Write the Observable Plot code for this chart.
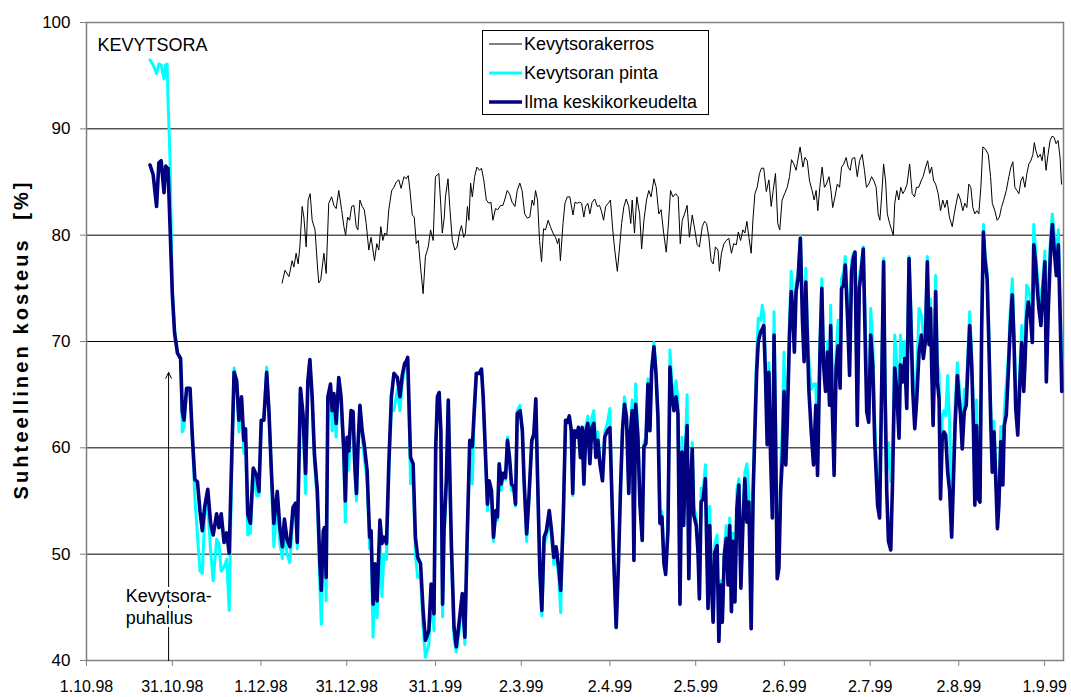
<!DOCTYPE html>
<html>
<head>
<meta charset="utf-8">
<script src="https://cdn.jsdelivr.net/npm/d3@7"></script>
<script src="https://cdn.jsdelivr.net/npm/@observablehq/plot@0.6"></script>
<style>
  body { margin: 0; background: #fff; }
  #chart svg { font-family: "Liberation Sans", Arial, sans-serif; display: block; }
</style>
</head>
<body>
<div id="chart"></div>
<script>
// ---- data: days since 1.10.1998 ----
const kerrosDays = [68.4,69.4,70.8,71.9,72.5,73.3,74.0,74.6,75.4,76.0,76.8,77.5,78.2,78.9,79.9,80.7,81.2,81.9,83.0,83.8,84.7,85.7,86.5,87.3,88.2,89.2,90.0,90.6,91.3,92.0,92.7,93.5,94.3,94.9,95.6,96.4,97.1,97.8,98.7,99.5,100.7,101.5,102.2,102.9,103.6,104.3,105.0,105.7,106.7,107.5,108.3,109.2,110.0,111.0,111.8,112.5,113.1,113.9,114.6,115.3,116.0,116.8,117.7,118.5,119.5,120.3,121.2,122.0,123.2,123.9,124.4,125.1,125.5,126.4,127.0,127.9,128.8,129.6,130.4,131.1,131.9,132.5,133.2,133.7,134.3,134.9,135.7,136.5,137.4,138.1,138.9,139.8,140.7,141.4,142.1,143.0,143.8,144.8,145.6,146.3,147.1,147.9,148.8,149.8,150.6,151.5,152.3,153.2,154.1,155.0,155.8,156.4,157.0,157.7,158.4,159.1,159.8,160.5,161.4,162.2,163.1,164.0,164.7,165.2,165.7,166.6,167.3,168.1,169.0,170.1,170.8,171.6,172.4,173.1,173.9,174.5,175.3,176.0,176.8,177.7,178.6,179.4,180.1,180.8,181.5,182.4,183.2,184.0,184.7,185.6,186.4,187.1,187.9,188.7,189.6,190.3,190.8,191.6,192.4,193.4,194.1,194.9,195.8,196.6,197.4,198.4,199.2,200.1,200.9,201.8,202.7,203.4,204.2,205.0,206.0,206.9,207.6,208.3,209.1,210.0,210.8,211.8,212.7,213.5,214.3,215.3,216.1,216.8,217.6,218.4,219.1,219.9,220.8,221.3,222.0,222.9,223.7,224.6,225.5,226.3,227.2,227.9,228.7,229.5,230.2,230.9,231.6,232.4,233.0,233.7,234.5,235.3,236.0,236.8,237.7,238.6,239.4,240.1,240.9,241.7,242.4,243.2,244.1,245.0,245.8,246.5,247.3,248.1,249.5,250.5,251.2,252.0,252.8,253.7,254.4,255.1,255.7,256.4,257.2,258.0,258.7,259.6,260.3,260.9,261.7,262.5,263.3,264.0,264.8,265.6,266.3,267.0,267.7,268.6,269.5,270.3,271.2,272.0,272.7,273.5,274.5,275.3,276.1,276.8,277.4,278.0,278.7,279.4,280.0,280.8,281.5,282.1,282.6,283.3,284.0,284.7,285.4,286.1,286.9,287.8,288.7,289.5,290.2,291.0,291.8,292.5,293.4,294.1,294.8,295.5,296.2,296.9,297.8,298.6,299.4,300.1,300.9,301.7,302.7,303.4,304.1,304.8,305.6,306.4,307.1,307.8,308.5,309.2,309.9,310.6,311.3,312.0,312.7,313.4,314.3,315.3,316.1,316.7,317.6,318.4,319.2,319.9,320.7,321.6,322.5,323.2,323.9,324.6,325.3,326.0,326.7,327.4,328.1,328.8,329.5,330.2,330.9,331.4,332.0,332.7,333.5,334.1,334.8,335.5,336.2,336.9,337.6,338.3,339.0,339.7,340.4,340.9];
const kerros = [75.5,76.7,76.1,77.6,77.0,78.3,77.3,78.9,82.7,81.7,78.9,83.3,83.9,81.4,80.5,77.3,75.5,75.8,78.3,76.4,83.0,83.6,82.8,82.5,84.2,82.4,80.8,80.0,81.7,81.4,82.7,82.8,80.8,80.5,83.3,82.7,82.4,81.1,78.6,79.8,77.6,79.2,78.6,80.8,79.5,80.2,80.0,82.4,84.2,84.5,85.0,85.2,84.4,85.5,85.3,85.6,84.2,81.9,81.7,79.2,79.5,77.0,74.5,78.0,78.9,80.5,79.5,85.5,85.8,82.7,80.2,81.7,83.6,85.3,82.7,79.5,78.6,78.9,80.2,80.9,79.8,80.2,82.7,81.4,84.9,83.6,85.5,86.4,86.1,86.3,85.2,83.3,83.0,83.1,81.4,82.5,82.4,82.8,82.8,83.4,84.2,83.9,83.1,82.7,84.2,84.9,84.2,82.0,81.6,81.7,83.3,82.8,84.2,83.3,79.5,77.5,80.6,80.5,81.4,80.8,80.2,79.8,79.2,79.7,77.6,81.1,83.0,83.6,83.6,81.9,83.1,83.0,83.1,83.0,81.7,82.7,83.0,82.0,83.1,83.4,82.7,82.8,82.2,81.4,82.7,83.0,83.3,80.5,78.6,76.6,78.9,81.1,82.7,83.4,82.7,81.1,83.3,80.2,83.6,82.0,78.7,81.4,83.3,84.2,83.6,85.3,84.5,82.0,82.4,80.2,78.4,80.8,84.2,83.6,83.9,83.6,79.2,81.4,82.0,82.8,79.8,81.9,80.5,79.1,78.9,80.8,81.3,81.1,79.8,77.6,77.3,78.9,78.6,76.6,78.3,79.2,79.5,79.7,78.3,79.2,79.1,80.3,79.5,80.5,80.2,81.3,79.8,78.3,81.4,83.9,84.5,85.8,86.3,86.3,84.1,85.2,82.7,84.2,85.8,81.1,80.5,83.3,83.9,84.5,85.5,87.1,86.7,86.1,88.3,86.4,87.3,87.0,85.1,84.2,83.3,84.2,82.3,84.5,86.4,84.5,84.8,85.5,84.2,82.6,83.6,84.8,84.5,86.4,86.7,87.3,86.4,86.1,87.2,87.3,85.5,87.0,87.6,86.1,84.5,84.8,85.5,85.1,84.5,82.0,81.4,83.6,86.7,85.1,82.0,81.1,80.5,80.0,83.0,84.2,83.3,84.5,83.9,84.2,84.8,86.7,83.9,83.6,84.5,84.5,85.1,85.5,86.4,87.0,85.8,86.4,85.1,84.8,83.9,82.3,83.3,82.6,83.3,81.7,80.8,82.0,83.0,83.9,83.3,82.3,83.0,82.6,84.8,84.5,82.6,82.0,82.3,82.0,84.5,88.3,88.1,87.6,85.5,83.0,82.3,81.4,81.7,82.6,83.3,84.2,85.5,86.4,86.9,84.5,84.2,83.9,85.1,85.5,84.5,85.8,86.7,87.0,87.6,88.7,87.9,87.3,87.6,87.0,88.3,86.1,87.6,88.9,89.3,89.2,88.6,88.9,87.3,84.8];

const lowDays = [22.2,23.3,24.5,25.3,26.1,27.1,27.7,28.2,28.5,29.2,30.0,30.8,31.8,32.9,33.5,34.1,35.0,36.2,37.0,37.9,38.8,39.7,40.5,41.3,42.4,43.4,44.3,45.5,46.3,47.1,48.1,49.0,49.9,50.6,51.6,52.5,53.3,54.2,55.0,55.6,56.4,57.3,58.3,59.5,60.3,61.1,62.0,63.0,63.8,64.6,65.5,66.7,67.6,68.5,69.2,70.1,71.1,72.2,73.1,73.7,74.8,75.7,76.6,77.4,78.1,78.9,79.7,80.7,81.6,82.1,82.8,83.2,83.8,84.4,85.3,85.9,86.5,87.3,88.2,89.0,89.9,90.5,91.1,91.7,92.5,93.2,93.8,94.4,94.9,95.6,96.4,97.2,98.1,99.0,99.5,100.2,100.9,101.6,102.6,103.3,104.0,104.9,105.7,106.6,107.5,108.7,109.6,110.4,111.2,111.9,112.3,113.3,114.2,115.0,115.8,116.8,117.7,118.5,119.7,120.5,121.5,122.1,122.7,123.3,123.9,124.5,125.0,125.8,126.5,126.9,127.6,128.5,129.3,130.2,131.4,132.3,133.1,134.0,134.9,135.5,136.3,137.3,138.1,138.7,139.4,140.2,140.8,141.6,142.3,143.1,143.7,144.3,145.0,145.7,146.5,147.2,147.9,148.6,149.4,150.0,150.6,151.6,152.4,153.0,153.9,154.7,155.7,156.4,157.1,157.6,158.5,159.2,160.0,160.8,161.8,162.6,163.4,164.2,165.2,165.8,166.7,167.5,168.1,168.8,169.5,170.0,170.6,171.3,172.0,172.7,173.3,173.9,174.6,175.3,176.0,176.7,177.4,178.1,178.8,179.5,180.4,181.2,182.1,183.0,183.7,184.4,185.2,186.0,186.7,187.4,188.1,188.8,189.6,190.2,190.8,191.4,192.0,192.8,193.5,194.3,194.9,195.6,196.3,197.0,197.6,198.4,199.1,199.8,200.5,201.2,201.9,202.5,203.3,204.0,204.7,205.4,206.1,206.8,207.5,208.2,208.8,209.4,210.0,210.6,211.2,211.8,212.3,213.2,213.8,214.3,214.9,215.6,216.4,217.3,217.9,218.4,219.1,219.7,220.5,221.1,221.7,222.3,223.0,223.7,224.3,224.9,225.5,226.1,226.7,227.4,228.1,228.8,229.5,230.2,230.9,231.6,232.4,233.1,233.7,234.3,234.9,235.7,236.3,236.8,237.4,238.0,238.6,239.2,239.8,240.4,240.9,241.5,242.1,242.7,243.3,243.9,244.5,245.0,245.8,246.4,246.9,247.5,248.1,248.8,249.6,250.3,250.9,251.5,252.0,252.6,253.4,254.2,255.0,255.6,256.4,257.1,257.7,258.4,259.1,259.8,260.2,260.8,261.4,262.1,262.8,263.5,264.0,264.7,265.3,266.1,266.8,267.5,268.1,268.7,269.5,270.2,270.9,271.6,272.1,272.8,273.5,274.2,274.9,275.6,276.6,277.3,278.0,278.7,279.2,279.8,280.4,281.2,281.8,282.6,283.3,284.1,284.6,285.4,286.1,286.8,287.6,288.2,288.9,289.6,290.3,291.1,291.9,292.6,293.3,294.0,294.6,295.1,295.5,296.0,296.4,296.9,297.5,298.1,298.6,299.2,299.8,300.4,301.1,301.8,302.5,303.0,303.7,304.5,305.1,305.6,306.2,306.9,307.6,308.2,308.8,309.5,310.1,310.6,311.2,311.8,312.4,313.0,313.6,314.1,314.9,315.5,316.2,316.7,317.3,317.9,318.5,319.0,319.7,320.4,320.9,321.6,322.3,323.0,323.7,324.3,324.9,325.6,326.3,327.0,327.7,328.1,328.7,329.3,330.0,330.7,331.2,331.9,332.5,333.0,333.7,334.4,335.1,335.6,336.3,337.1,337.7,338.4,339.1,339.8,340.5,341.0];
const ilma = [86.6,85.7,82.7,86.8,87.0,84.0,86.5,86.3,86.3,80.9,74.5,70.8,68.9,68.4,63.4,62.6,65.6,65.6,61.1,57.0,56.8,54.0,52.2,54.4,56.1,52.9,51.8,53.8,52.5,53.8,51.1,52.0,50.1,57.4,67.1,66.3,62.6,64.8,60.7,61.8,53.7,52.9,58.1,57.4,55.9,62.6,62.6,67.1,63.4,58.1,52.9,55.9,52.5,50.7,53.3,51.4,50.7,54.4,54.8,51.1,65.6,63.2,57.6,66.3,68.3,64.8,59.4,56.0,49.1,46.6,52.2,52.5,47.8,64.8,66.0,63.5,65.1,62.3,66.6,64.8,60.1,55.0,61.0,59.7,63.5,63.4,58.5,55.7,60.1,64.0,61.6,60.1,57.9,51.6,52.2,45.3,49.1,45.6,53.2,51.0,51.6,51.0,58.5,64.8,67.0,66.6,64.8,66.8,67.9,68.2,68.5,59.1,58.5,51.6,49.7,49.1,44.7,41.9,42.8,47.2,44.4,60.1,64.8,65.2,61.6,45.3,52.2,56.9,64.5,59.1,50.7,43.1,41.3,43.4,46.3,42.2,51.6,60.7,60.1,63.2,67.0,67.0,67.4,64.8,60.1,54.7,56.9,56.0,51.6,54.1,53.5,58.5,56.6,57.6,57.2,60.7,59.1,56.6,56.3,54.7,63.2,63.5,61.6,56.9,51.9,55.4,60.7,61.3,64.6,58.5,48.5,44.7,51.6,52.2,54.1,52.2,49.7,50.7,48.5,46.6,53.5,62.6,62.4,63.0,61.6,55.7,61.6,61.0,61.9,59.1,61.9,56.6,61.6,62.3,58.5,61.9,62.3,59.1,60.7,58.5,56.9,61.0,61.6,61.9,55.4,49.1,43.1,49.1,56.0,61.6,64.1,62.9,55.7,61.6,63.5,49.4,64.1,61.0,54.7,51.3,60.1,60.4,66.0,61.6,67.3,69.5,67.0,62.9,52.9,53.5,49.1,48.1,52.2,67.6,64.8,63.5,64.8,63.2,45.3,59.6,52.7,59.3,62.1,47.7,56.5,59.9,53.7,52.7,50.2,45.8,54.9,55.2,57.1,44.9,52.7,48.0,43.6,50.2,50.8,41.8,47.1,43.6,49.9,51.5,47.1,52.7,44.6,51.2,45.5,54.3,56.5,46.8,52.7,57.1,53.0,54.9,43.0,55.9,61.5,67.1,70.0,70.9,71.2,71.5,66.8,60.3,67.1,59.0,53.4,70.6,61.5,47.7,48.7,55.9,59.0,65.3,58.4,62.1,70.6,74.7,73.1,69.0,74.7,75.9,79.7,72.2,68.1,75.6,70.6,65.3,61.5,58.4,64.0,57.4,68.4,75.0,67.8,65.3,69.0,64.0,71.5,63.4,57.4,67.5,69.6,65.6,75.0,75.3,77.2,72.2,66.8,76.6,77.8,78.4,62.1,75.0,76.6,78.7,72.2,63.4,62.4,70.6,67.8,60.6,54.6,53.4,65.3,77.5,65.3,55.9,51.2,50.4,56.5,67.5,65.3,60.9,67.8,66.2,68.4,63.7,77.8,72.2,65.3,61.8,64.6,69.0,70.6,68.4,70.0,77.5,69.7,73.1,67.8,62.1,66.5,74.7,66.2,64.6,55.2,60.9,61.5,61.2,57.7,55.9,51.6,55.9,62.1,66.8,64.6,63.1,59.9,63.4,64.0,67.8,71.5,67.8,62.1,54.6,62.1,55.2,54.9,71.5,80.3,77.8,75.9,69.9,62.1,57.7,61.5,57.1,52.4,54.6,60.6,56.5,62.1,63.1,67.1,71.5,74.4,69.9,63.7,61.2,65.9,69.9,65.3,67.8,72.2,73.7,72.5,69.9,79.1,77.2,74.7,73.1,71.5,74.7,77.5,66.2,73.1,78.7,81.0,78.4,76.2,79.1,71.5,65.3];
const pinta = [96.5,96.0,95.2,96.1,96.0,94.7,96.0,96.1,92.8,87.2,75.0,71.0,69.0,68.4,61.5,62.0,65.6,65.6,60.8,55.2,51.8,48.4,48.2,53.6,54.5,50.3,47.5,51.4,51.0,48.4,48.8,49.5,44.7,55.5,67.5,66.3,61.5,64.5,59.5,61.0,51.8,52.0,57.5,55.5,55.5,62.6,62.6,67.6,63.4,57.5,50.7,55.0,51.0,49.6,52.5,50.0,49.2,53.5,54.0,50.5,65.6,62.5,55.7,66.0,68.3,64.5,58.5,55.0,47.0,43.4,51.0,51.5,45.6,64.0,65.5,61.6,64.5,61.0,66.6,64.5,59.5,53.0,60.5,57.9,63.0,63.0,57.5,55.0,59.5,64.0,61.0,58.8,57.0,50.5,51.5,42.2,48.0,44.0,52.0,46.0,50.0,49.5,57.5,63.5,63.5,65.5,63.5,66.0,67.5,68.0,68.5,56.6,57.0,50.0,47.8,48.0,43.0,40.3,41.5,46.0,42.8,59.5,64.5,65.2,61.0,44.1,51.5,56.0,64.5,58.5,49.5,42.0,40.8,42.5,45.5,41.5,50.5,60.0,56.6,62.5,67.0,67.0,67.4,64.5,59.5,54.1,56.5,55.5,51.2,54.0,53.2,58.5,56.0,57.6,57.0,61.0,59.0,56.0,56.0,54.5,63.5,64.0,61.5,56.5,51.2,55.0,60.5,61.0,64.5,58.0,48.0,44.2,51.0,51.5,53.5,51.5,49.0,50.0,47.5,44.5,53.0,62.6,62.4,63.0,61.6,55.5,61.6,61.0,62.0,59.0,62.0,56.5,62.0,63.0,59.0,62.9,63.5,60.0,61.5,59.0,57.0,61.5,62.3,63.7,55.4,49.1,43.1,49.1,56.0,62.0,64.8,63.0,55.7,62.0,64.5,49.4,66.0,61.5,55.0,51.3,60.5,61.0,66.5,62.0,67.5,69.9,67.5,63.5,53.5,54.0,49.5,48.5,52.5,69.2,66.0,65.0,66.3,64.5,45.3,61.0,53.5,60.0,65.0,47.7,57.0,60.5,54.5,53.5,50.5,45.8,56.2,56.0,58.4,44.9,54.5,48.5,43.6,51.0,51.8,41.8,47.5,43.6,50.5,52.7,47.5,53.4,44.6,52.0,45.5,56.0,57.1,47.0,54.0,57.7,58.5,56.0,43.0,57.0,63.0,69.0,72.2,72.0,73.4,72.5,68.0,61.0,68.0,60.0,54.0,72.8,63.0,48.5,50.0,58.0,62.0,69.0,60.0,63.5,72.0,76.6,74.0,70.5,75.5,76.5,79.9,73.5,69.5,76.9,72.0,68.1,65.5,66.0,66.0,58.5,69.5,75.9,68.5,66.5,70.0,66.0,73.4,64.5,58.0,69.0,72.0,68.0,75.9,76.5,78.0,74.0,68.0,77.5,78.3,78.4,63.0,76.0,77.5,78.9,74.0,66.0,64.0,73.1,70.0,62.5,56.0,55.0,66.5,77.8,67.0,58.0,60.5,56.8,58.5,70.6,68.0,63.0,70.6,68.5,70.0,66.0,78.0,73.5,67.8,63.5,67.0,73.1,72.5,70.5,71.5,78.0,71.0,74.0,69.0,64.0,68.0,76.2,68.0,67.0,57.0,63.0,63.5,63.0,66.8,62.1,53.0,57.0,64.0,68.0,66.0,64.0,61.0,65.5,65.5,69.0,72.8,69.0,63.5,56.0,64.5,56.5,56.0,72.0,81.0,78.5,76.5,71.0,63.5,59.0,62.5,58.0,53.5,56.0,62.0,58.0,63.5,66.0,68.5,73.0,75.9,71.0,65.0,63.0,67.5,71.5,67.0,69.5,75.3,75.0,74.0,72.0,81.0,78.5,76.0,75.0,73.0,76.0,78.5,67.0,75.0,80.0,82.0,80.0,78.0,80.5,73.0,67.8];

const seriesNames = ["Kevytsorakerros", "Kevytsoran pinta", "Ilma keskikorkeudelta"];
const xTickDates = ["1998-10-01","1998-10-31","1998-12-01","1998-12-31","1999-01-31","1999-03-02","1999-04-02","1999-05-02","1999-06-02","1999-07-02","1999-08-02","1999-09-01"];
const xTickLabels = ["1.10.98","31.10.98","1.12.98","31.12.98","31.1.99","2.3.99","2.4.99","2.5.99","2.6.99","2.7.99","2.8.99","1.9.99"];
const yTicks = [40, 50, 60, 70, 80, 90, 100];
const yGrid = [50, 60, 70, 80, 90];
const xDomainDays = [0, 341.6];
const titleText = "KEVYTSORA";
const yLabel = "Suhteellinen kosteus  [%]";
const noteText = "Kevytsora-\npuhallus";
const arrowDay = 28.7, arrowFrom = 40, arrowTo = 67.1;
const noteDay = 13.7, noteY = 47.0;

// ---- build ----
const start = Date.UTC(1998, 9, 1);
const toDate = d => new Date(start + d * 864e5);
const kerrosRows = kerrosDays.map((d, i) => ({date: toDate(d), v: kerros[i]}));
const lowRows = lowDays.map((d, i) => ({date: toDate(d), pinta: pinta[i], ilma: ilma[i]}));
const tickDates = xTickDates.map(s => new Date(s + "T00:00:00Z"));
const labelOf = new Map(tickDates.map((d, i) => [+d, xTickLabels[i]]));

const colors = ["#000000", "#00FFFF", "#000080"];
const widths = [1, 3, 3.6];

const chart = Plot.plot({
  width: 1071,
  height: 697,
  marginLeft: 86,
  marginRight: 8,
  marginTop: 22,
  marginBottom: 37,
  style: {fontFamily: "'Liberation Sans', Arial, sans-serif", fontSize: "16px", color: "#000", background: "#fff"},
  x: {type: "utc", domain: xDomainDays.map(toDate)},
  y: {domain: [40, 100]},
  marks: [
    Plot.ruleY(yGrid, {stroke: "#000", strokeWidth: 1}),
    Plot.frame({stroke: "#808080", strokeWidth: 1.5}),
    Plot.axisY(yTicks, {tickSize: 6, tickPadding: 10, fontSize: 17, stroke: "#808080", fill: "#000", label: null}),
    Plot.axisX(tickDates, {tickSize: 6, tickPadding: 14, fontSize: 16, stroke: "#808080", fill: "#000", tickFormat: d => labelOf.get(+d), label: null}),
    Plot.line(kerrosRows, {x: "date", y: "v", stroke: colors[0], strokeWidth: widths[0]}),
    Plot.line(lowRows, {x: "date", y: "pinta", stroke: colors[1], strokeWidth: widths[1]}),
    Plot.line(lowRows, {x: "date", y: "ilma", stroke: colors[2], strokeWidth: widths[2]}),
    Plot.arrow([{x1: toDate(arrowDay), y1: arrowFrom, x2: toDate(arrowDay), y2: arrowTo}],
      {x1: "x1", y1: "y1", x2: "x2", y2: "y2", stroke: "#000", strokeWidth: 1, headLength: 10, headAngle: 50}),
    Plot.text([noteText], {x: toDate(noteDay), y: noteY, text: d => d, textAnchor: "start", lineAnchor: "top",
      fontSize: 18, lineHeight: 1.22, fill: "#000", stroke: "#fff", strokeWidth: 6}),
    Plot.text([titleText], {frameAnchor: "top-left", text: d => d, dx: 11, dy: 23, lineAnchor: "middle",
      textAnchor: "start", fontSize: 18, fill: "#000"})
  ]
});

document.getElementById("chart").appendChild(chart);

// y-axis title and legend (layout elements)
const svg = d3.select(chart);
svg.append("text")
  .attr("transform", "translate(21,341) rotate(-90)")
  .attr("text-anchor", "middle")
  .attr("dy", "0.35em")
  .attr("font-size", 20)
  .attr("font-weight", "bold")
  .attr("textLength", 317)
  .attr("lengthAdjust", "spacing")
  .style("white-space", "pre")
  .attr("fill", "#000")
  .text(yLabel);

const lg = svg.append("g").attr("class", "legend").attr("text-anchor", "start");
lg.append("rect").attr("x", 482.5).attr("y", 30.5).attr("width", 226).attr("height", 84)
  .attr("fill", "#fff").attr("stroke", "#000").attr("stroke-width", 1);
seriesNames.forEach((name, i) => {
  const cy = 44 + i * 29;
  lg.append("line").attr("x1", 489).attr("x2", 522).attr("y1", cy).attr("y2", cy)
    .attr("stroke", colors[i]).attr("stroke-width", widths[i]);
  lg.append("text").attr("x", 524).attr("y", cy).attr("dy", "0.35em")
    .attr("text-anchor", "start")
    .attr("font-size", 18).attr("fill", "#000").text(name);
});
</script>
</body>
</html>
